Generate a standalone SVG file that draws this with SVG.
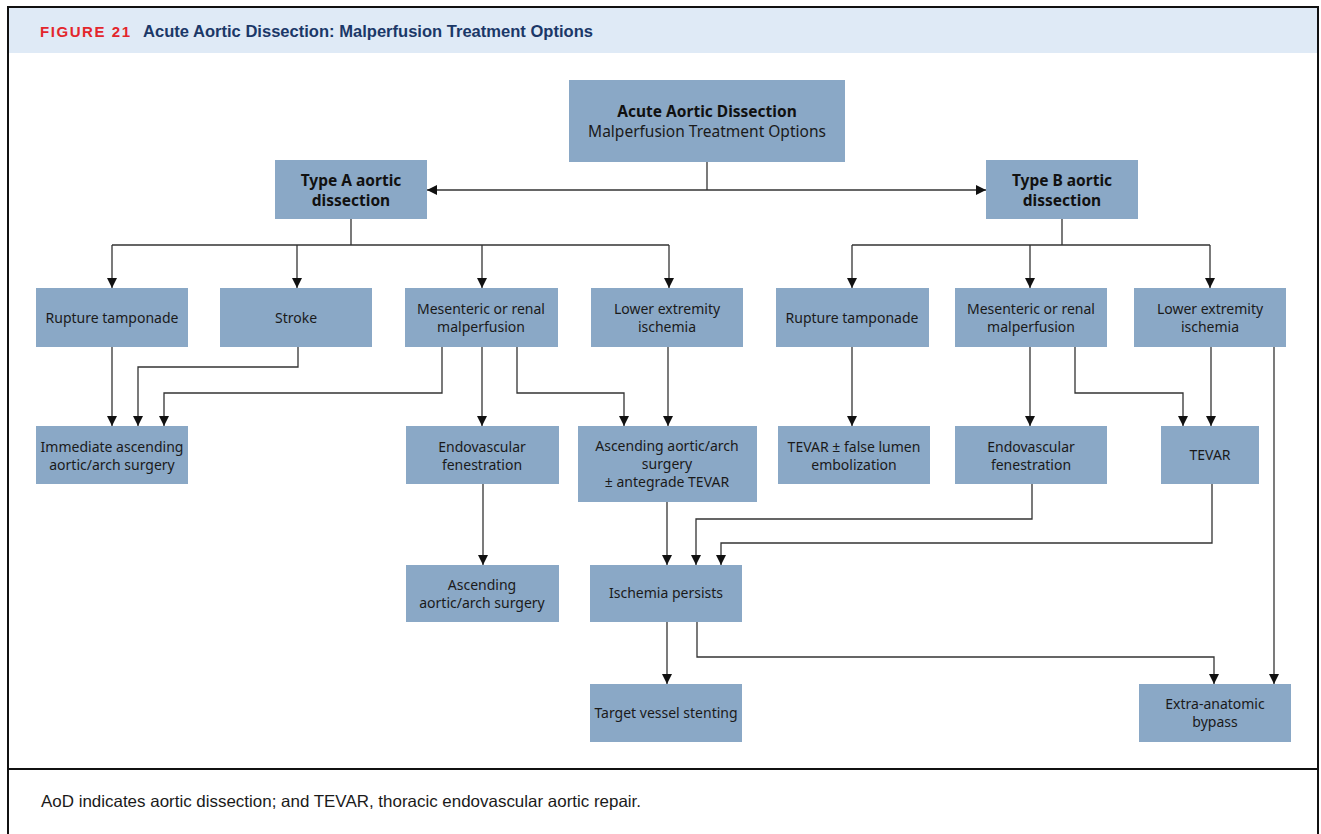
<svg xmlns="http://www.w3.org/2000/svg" width="1321" height="834" viewBox="0 0 1321 834">
<defs>
<marker id="arr" viewBox="0 0 10 10" refX="10" refY="5" markerWidth="12" markerHeight="10" markerUnits="userSpaceOnUse" orient="auto-start-reverse">
<path d="M0,0 L10,5 L0,10 z" fill="#111"/>
</marker>
<style>
.box{fill:#8aa8c6;}
.t{font-family:"Noto Sans","Open Sans",sans-serif;font-size:14px;fill:#1a1a1a;text-anchor:middle;}
.tb{font-family:"Noto Sans","Open Sans",sans-serif;font-size:15.5px;font-weight:bold;fill:#111;text-anchor:middle;}
.tl{font-family:"Noto Sans","Open Sans",sans-serif;font-size:15.5px;fill:#1a1a1a;text-anchor:middle;}
.c{fill:none;stroke:#333;stroke-width:1.3;}
.ca{fill:none;stroke:#333;stroke-width:1.3;marker-end:url(#arr);}
</style>
</defs>
<rect x="0" y="0" width="1321" height="834" fill="#fff"/>
<rect x="8" y="7" width="1310" height="46" fill="#dfeaf6"/>
<g id="frame" fill="none" stroke="#111" stroke-width="2">
<path d="M8,834 V7 H1318 V834"/>
<path d="M8,769 H1318"/>
</g>
<text x="40" y="37" font-family="Liberation Sans, sans-serif" font-size="15" font-weight="bold" fill="#e3262c" textLength="90" lengthAdjust="spacing">FIGURE 21</text>
<text x="143" y="37" font-family="Liberation Sans, sans-serif" font-size="16.5" font-weight="bold" fill="#1b3868" textLength="450" lengthAdjust="spacingAndGlyphs">Acute Aortic Dissection: Malperfusion Treatment Options</text>
<text x="41" y="807" font-family="Liberation Sans, sans-serif" font-size="16.5" fill="#1a1a1a" textLength="600" lengthAdjust="spacingAndGlyphs">AoD indicates aortic dissection; and TEVAR, thoracic endovascular aortic repair.</text>

<g id="connectors">
<path class="c" d="M707,162 V190"/>
<path class="c" d="M427,190 H986" marker-start="url(#arr)" marker-end="url(#arr)"/>
<path class="c" d="M351,219 V245 M112,245 H669"/>
<path class="ca" d="M112,245 V288"/>
<path class="ca" d="M297,245 V288"/>
<path class="ca" d="M482,245 V288"/>
<path class="ca" d="M669,245 V288"/>
<path class="c" d="M1062,219 V245 M852,245 H1210"/>
<path class="ca" d="M852,245 V288"/>
<path class="ca" d="M1030,245 V288"/>
<path class="ca" d="M1210,245 V288"/>
<path class="ca" d="M112,347 V426"/>
<path class="ca" d="M298,347 V367 H138 V426"/>
<path class="ca" d="M442,347 V393 H164 V426"/>
<path class="ca" d="M482,347 V426"/>
<path class="ca" d="M517,347 V393 H624 V426"/>
<path class="ca" d="M668,347 V426"/>
<path class="ca" d="M852,347 V426"/>
<path class="ca" d="M1030,347 V426"/>
<path class="ca" d="M1075,347 V393 H1183 V426"/>
<path class="ca" d="M1211,347 V426"/>
<path class="ca" d="M1274,347 V684"/>
<path class="ca" d="M483,484 V565"/>
<path class="ca" d="M667,502 V565"/>
<path class="ca" d="M1032,484 V519 H696 V565"/>
<path class="ca" d="M1212,484 V543 H721 V565"/>
<path class="ca" d="M667,622 V684"/>
<path class="ca" d="M697,622 V657 H1214 V684"/>
</g>

<g id="n-root"><rect class="box" x="569" y="80" width="276" height="82"/><text class="tb" x="707" y="117">Acute Aortic Dissection</text><text class="tl" x="707" y="137">Malperfusion Treatment Options</text></g>
<g id="n-typeA"><rect class="box" x="275" y="160" width="152" height="59"/><text class="tb" x="351" y="186">Type A aortic</text><text class="tb" x="351" y="206">dissection</text></g>
<g id="n-typeB"><rect class="box" x="986" y="160" width="152" height="59"/><text class="tb" x="1062" y="186">Type B aortic</text><text class="tb" x="1062" y="206">dissection</text></g>

<g id="n-a-rupture"><rect class="box" x="36" y="288" width="152" height="59"/><text class="t" x="112" y="323">Rupture tamponade</text></g>
<g id="n-a-stroke"><rect class="box" x="220" y="288" width="152" height="59"/><text class="t" x="296" y="323">Stroke</text></g>
<g id="n-a-mesenteric"><rect class="box" x="405" y="288" width="153" height="59"/><text class="t" x="481" y="314">Mesenteric or renal</text><text class="t" x="481" y="332">malperfusion</text></g>
<g id="n-a-lower"><rect class="box" x="591" y="288" width="152" height="59"/><text class="t" x="667" y="314">Lower extremity</text><text class="t" x="667" y="332">ischemia</text></g>
<g id="n-b-rupture"><rect class="box" x="776" y="288" width="153" height="59"/><text class="t" x="852" y="323">Rupture tamponade</text></g>
<g id="n-b-mesenteric"><rect class="box" x="955" y="288" width="152" height="59"/><text class="t" x="1031" y="314">Mesenteric or renal</text><text class="t" x="1031" y="332">malperfusion</text></g>
<g id="n-b-lower"><rect class="box" x="1134" y="288" width="152" height="59"/><text class="t" x="1210" y="314">Lower extremity</text><text class="t" x="1210" y="332">ischemia</text></g>

<g id="n-a-immediate"><rect class="box" x="36" y="426" width="152" height="58"/><text class="t" x="112" y="452">Immediate ascending</text><text class="t" x="112" y="470">aortic/arch surgery</text></g>
<g id="n-a-endo"><rect class="box" x="406" y="426" width="153" height="58"/><text class="t" x="482" y="452">Endovascular</text><text class="t" x="482" y="470">fenestration</text></g>
<g id="n-a-asc-tevar"><rect class="box" x="578" y="426" width="179" height="76"/><text class="t" x="667" y="451">Ascending aortic/arch</text><text class="t" x="667" y="469">surgery</text><text class="t" x="667" y="487">± antegrade TEVAR</text></g>
<g id="n-b-tevar-fl"><rect class="box" x="778" y="426" width="152" height="58"/><text class="t" x="854" y="452">TEVAR ± false lumen</text><text class="t" x="854" y="470">embolization</text></g>
<g id="n-b-endo"><rect class="box" x="955" y="426" width="152" height="58"/><text class="t" x="1031" y="452">Endovascular</text><text class="t" x="1031" y="470">fenestration</text></g>
<g id="n-b-tevar"><rect class="box" x="1161" y="426" width="98" height="58"/><text class="t" x="1210" y="460">TEVAR</text></g>

<g id="n-a-asc"><rect class="box" x="406" y="565" width="153" height="57"/><text class="t" x="482" y="590">Ascending</text><text class="t" x="482" y="608">aortic/arch surgery</text></g>
<g id="n-ischemia"><rect class="box" x="590" y="565" width="152" height="57"/><text class="t" x="666" y="598">Ischemia persists</text></g>
<g id="n-stenting"><rect class="box" x="590" y="684" width="152" height="58"/><text class="t" x="666" y="718">Target vessel stenting</text></g>
<g id="n-bypass"><rect class="box" x="1139" y="684" width="152" height="58"/><text class="t" x="1215" y="709">Extra-anatomic</text><text class="t" x="1215" y="727">bypass</text></g>
</svg>
